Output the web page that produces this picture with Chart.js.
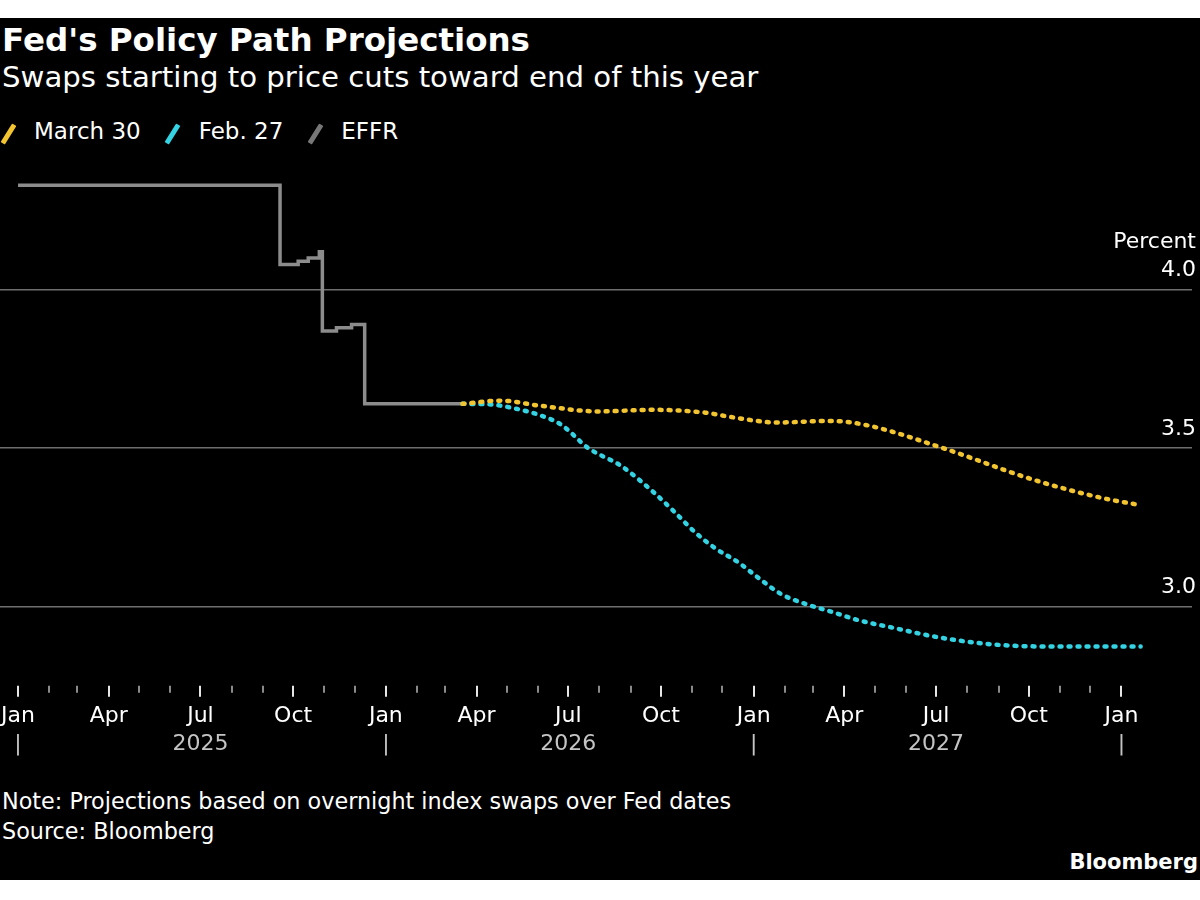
<!DOCTYPE html>
<html>
<head>
<meta charset="utf-8">
<script src="https://cdn.jsdelivr.net/npm/chart.js@4.4.1/dist/chart.umd.min.js"></script>
<style>
  html, body { margin: 0; padding: 0; background: #fff; }
  body { width: 1200px; height: 900px; position: relative; overflow: hidden; font-family: "DejaVu Sans", sans-serif; }
  #panel { position: absolute; left: 0; top: 18px; width: 1200px; height: 862px; background: #000; }
  .txt { position: absolute; color: #fff; white-space: nowrap; }
  #title { left: 2px; top: 21px; font-size: 32.5px; font-weight: bold; line-height: 38px; }
  #subtitle { left: 2px; top: 60px; font-size: 29.2px; line-height: 34px; }
  #legend { position: absolute; left: 2px; top: 117px; height: 28px; display: flex; align-items: center; }
  .item { display: flex; align-items: center; margin-right: 26px; color: #fff; font-size: 23px; }
  .swatch { width: 5px; height: 22px; transform: rotate(32deg); margin: 6px 23.5px 0 3.5px; border-radius: 1px; }
  #note { left: 2px; top: 788px; font-size: 22.3px; line-height: 26px; }
  #source { left: 2px; top: 818px; font-size: 22.3px; line-height: 26px; }
  #brand { right: 2px; top: 849px; font-size: 21px; font-weight: bold; line-height: 26px; }
  #chartBox { position: absolute; left: 0; top: 131px; width: 1200px; height: 634px; }
</style>
</head>
<body>
<div id="panel"></div>
<div class="txt" id="title">Fed's Policy Path Projections</div>
<div class="txt" id="subtitle">Swaps starting to price cuts toward end of this year</div>
<div id="legend"></div>
<div id="chartBox"><canvas id="policyChart" width="1200" height="634"></canvas></div>
<div class="txt" id="note">Note: Projections based on overnight index swaps over Fed dates</div>
<div class="txt" id="source">Source: Bloomberg</div>
<div class="txt" id="brand">Bloomberg</div>

<script>
// Effective fed funds rate (step series)
const effrDates = ["2025-01-01", "2025-09-18", "2025-10-06", "2025-10-16", "2025-10-27",
  "2025-10-30", "2025-11-13", "2025-11-28", "2025-12-11", "2026-03-18"];
const effrValues = [4.33, 4.08, 4.09, 4.10, 4.12, 3.87, 3.88, 3.89, 3.64, 3.64];

// Swaps projection as of March 30
const marchDates = ["2026-03-18", "2026-04-25", "2026-06-03", "2026-07-31", "2026-09-23",
  "2026-11-14", "2026-12-12", "2027-01-24", "2027-03-18", "2027-04-24", "2027-07-08",
  "2027-10-06", "2027-12-11", "2028-01-20"];
const marchValues = [3.64, 3.65, 3.634, 3.616, 3.621, 3.612, 3.597, 3.581, 3.586, 3.572,
  3.50, 3.40, 3.344, 3.32];

// Swaps projection as of Feb. 27
const febDates = ["2026-03-18", "2026-04-15", "2026-05-05", "2026-06-01", "2026-06-24",
  "2026-07-21", "2026-08-23", "2026-09-24", "2026-10-14", "2026-11-03", "2026-11-23",
  "2026-12-17", "2027-01-06", "2027-01-28", "2027-02-20", "2027-03-19", "2027-04-15",
  "2027-05-18", "2027-06-30", "2027-08-09", "2027-09-12", "2027-10-24", "2028-01-20"];
const febValues = [3.64, 3.638, 3.628, 3.606, 3.574, 3.50, 3.443, 3.36, 3.30, 3.237, 3.186,
  3.139, 3.09, 3.04, 3.01, 2.984, 2.957, 2.934, 2.905, 2.886, 2.877, 2.874, 2.874];

const yTicks = [3.0, 3.5, 4.0];
const monthNames = ["Jan", "Feb", "Mar", "Apr", "May", "Jun", "Jul", "Aug", "Sep", "Oct", "Nov", "Dec"];
const years = [2025, 2026, 2027];

const seriesNames = ["March 30", "Feb. 27", "EFFR"];
const seriesColors = ["#f2c530", "#33d3e3", "#8c8c8c"];
const swatchColors = ["#f2c530", "#33d3e3", "#777777"];

// x axis is days since 2025-01-01
const START = Date.UTC(2025, 0, 1);
const DAY = 86400000;
const toDay = (s) => (Date.parse(s) - START) / DAY;
const X_MIN = -17.9;
const X_MAX = 1165.0;

const monthStarts = [];
for (let y = 2025; y <= 2028; y++) {
  for (let m = 0; m < 12; m++) {
    if (y === 2028 && m > 0) break;
    monthStarts.push({ day: (Date.UTC(y, m, 1) - START) / DAY, month: m, year: y });
  }
}
const quarterTicks = monthStarts.filter((d) => d.month % 3 === 0);
const yearTicks = monthStarts.filter((d) => d.month === 0 || (d.month === 6 && years.includes(d.year)));

const toPoints = (dates, values) => dates.map((d, i) => ({ x: toDay(d), y: values[i] }));

// legend
const legend = document.getElementById("legend");
seriesNames.forEach((name, i) => {
  const item = document.createElement("div");
  item.className = "item";
  item.innerHTML = `<span class="swatch" style="background:${swatchColors[i]}"></span>${name}`;
  legend.appendChild(item);
});

const FONT = "DejaVu Sans";

// month tick marks under the plot
const monthTickMarks = {
  id: "monthTickMarks",
  afterDraw(chart) {
    const xs = chart.scales.x;
    const ctx = chart.ctx;
    const y0 = chart.chartArea.bottom;
    ctx.save();
    monthStarts.forEach((d) => {
      const px = Math.round(xs.getPixelForValue(d.day));
      const major = d.month % 3 === 0;
      ctx.strokeStyle = major ? "#e6e6e6" : "#8a8a8a";
      ctx.lineWidth = 2;
      ctx.beginPath();
      ctx.moveTo(px, y0);
      ctx.lineTo(px, y0 + (major ? 11 : 7));
      ctx.stroke();
    });
    ctx.restore();
  },
};

const dotted = {
  borderWidth: 4.5,
  borderDash: [2, 7],
  borderCapStyle: "round",
  pointRadius: 0,
  cubicInterpolationMode: "monotone",
  fill: false,
};

new Chart(document.getElementById("policyChart"), {
  type: "line",
  data: {
    datasets: [
      { label: seriesNames[2], data: toPoints(effrDates, effrValues), borderColor: seriesColors[2],
        borderWidth: 3.5, stepped: true, pointRadius: 0, fill: false, order: 3 },
      { label: seriesNames[1], data: toPoints(febDates, febValues), borderColor: seriesColors[1],
        ...dotted, order: 2 },
      { label: seriesNames[0], data: toPoints(marchDates, marchValues), borderColor: seriesColors[0],
        ...dotted, order: 1 },
    ],
  },
  options: {
    responsive: false,
    animation: false,
    layout: { padding: { top: 32, bottom: 6, left: 0, right: 0 } },
    plugins: { legend: { display: false }, tooltip: { enabled: false } },
    scales: {
      x: {
        type: "linear",
        position: "bottom",
        min: X_MIN,
        max: X_MAX,
        afterBuildTicks: (scale) => {
          scale.ticks = [{ value: X_MIN }, ...quarterTicks.map((d) => ({ value: d.day })), { value: X_MAX }];
        },
        // invisible tick marks only reserve room above the labels
        grid: { display: true, drawOnChartArea: false, drawTicks: true, tickLength: 16, color: "rgba(0,0,0,0)" },
        border: { display: false },
        ticks: {
          autoSkip: false,
          maxRotation: 0,
          minRotation: 0,
          padding: 0,
          color: "#ffffff",
          font: { family: FONT, size: 22, lineHeight: 1.3 },
          callback: (value) => {
            const t = quarterTicks.find((d) => Math.abs(d.day - value) < 0.01);
            return t ? monthNames[t.month] : "";
          },
        },
      },
      x2: {
        type: "linear",
        position: "bottom",
        weight: 1,
        min: X_MIN,
        max: X_MAX,
        afterBuildTicks: (scale) => {
          scale.ticks = [{ value: X_MIN }, ...yearTicks.map((d) => ({ value: d.day })), { value: X_MAX }];
        },
        grid: { display: false, drawTicks: false },
        border: { display: false },
        ticks: {
          autoSkip: false,
          maxRotation: 0,
          minRotation: 0,
          padding: 0,
          color: "#c4c4c4",
          font: { family: FONT, size: 22, lineHeight: 1.3 },
          callback: (value) => {
            const t = yearTicks.find((d) => Math.abs(d.day - value) < 0.01);
            if (!t) return "";
            return t.month === 0 ? "|" : String(t.year);
          },
        },
      },
      y: {
        type: "linear",
        position: "right",
        min: 2.75,
        max: 4.4,
        afterBuildTicks: (scale) => {
          scale.ticks = yTicks.map((v) => ({ value: v }));
        },
        grid: { color: "#6e6e6e", lineWidth: 1.5, drawTicks: false },
        border: { display: false },
        ticks: {
          mirror: true,
          padding: 4,
          labelOffset: -33,
          color: "#ffffff",
          font: { family: FONT, size: 22, lineHeight: 1.273 },
          callback: (value) => (value === 4 ? ["Percent", "4.0"] : ["", value.toFixed(1)]),
        },
      },
    },
  },
  plugins: [monthTickMarks],
});
</script>
</body>
</html>
